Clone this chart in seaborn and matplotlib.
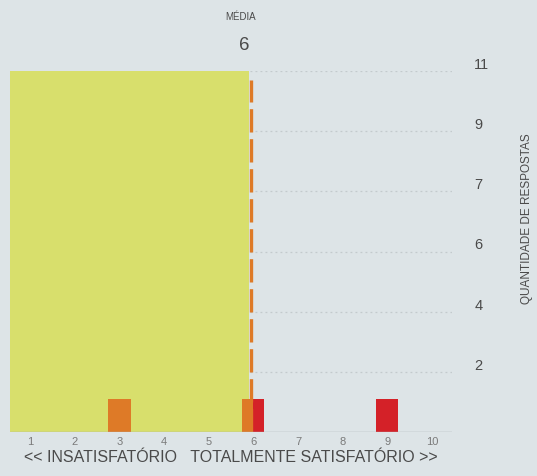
import numpy as np
import matplotlib
matplotlib.use("Agg")
import matplotlib.pyplot as plt
import seaborn as sns

# Scores on the satisfaction scale and answers per group
scores = list(range(1, 11))
group_a_scores = [3, 6]
group_a_counts = [1, 1]
group_b_scores = [6, 9]
group_b_counts = [1, 1]

y_max = 11
y_steps = 6
mean_value = 6

bg = "#dde4e7"
yellow = "#d8df6c"
orange = "#de7a27"
red = "#d42128"
text_gray = "#4a4a4a"

sns.set_theme(style="white")
plt.rcParams["font.family"] = ["Liberation Sans", "DejaVu Sans"]

W, H = 537, 477
fig = plt.figure(figsize=(W / 100, H / 100), dpi=100, facecolor=bg)
ax = fig.add_axes([10 / W, (H - 433) / H, 442 / W, (433 - 72) / H])
ax.set_facecolor(bg)

x_lo, x_hi = 0.55, 10.45
ax.set_xlim(x_lo, x_hi)
ax.set_ylim(0, y_max)

# Horizontal guide lines at evenly spaced fractions of the maximum
tick_pos = [y_max * k / y_steps for k in range(1, y_steps + 1)]
for t in tick_pos:
    ax.axhline(t, color="#c3cacd", lw=0.9, ls=(0, (1.5, 2.5)), zorder=1)

# Shaded band up to the mean
ax.fill_between([x_lo, mean_value - 0.1], 0, y_max, color=yellow, lw=0, zorder=2)

# Bars; a score answered by both groups is split in two halves
bar_w = 0.5
a = dict(zip(group_a_scores, group_a_counts))
b = dict(zip(group_b_scores, group_b_counts))
for s in scores:
    if s in a and s in b:
        ax.bar(s - bar_w / 4, a[s], width=bar_w / 2, color=orange, lw=0, zorder=3)
        ax.bar(s + bar_w / 4, b[s], width=bar_w / 2, color=red, lw=0, zorder=3)
    elif s in a:
        ax.bar(s, a[s], width=bar_w, color=orange, lw=0, zorder=3)
    elif s in b:
        ax.bar(s, b[s], width=bar_w, color=red, lw=0, zorder=3)

# Mean marker
ax.plot([mean_value - 0.05, mean_value - 0.05], [0, y_max * 0.975], color=orange,
        lw=2.4, ls=(0, (7, 2.0)), zorder=4, solid_capstyle="butt")
fig.text(241 / W, 1 - 17 / H, "MÉDIA", ha="center", va="center",
         fontsize=7, color=text_gray)
fig.text(244 / W, 1 - 45 / H, str(mean_value), ha="center", va="center",
         fontsize=13.5, color=text_gray)

# Baseline
ax.axhline(0, color="#a9b0b3", lw=1.0, zorder=5)

for sp in ax.spines.values():
    sp.set_visible(False)

ax.set_xticks(scores)
ax.set_xticklabels([str(s) for s in scores], fontsize=8, color="#7a7a7a")
ax.tick_params(axis="x", length=0, pad=3)

ax.yaxis.tick_right()
ax.set_yticks(tick_pos)
ax.set_yticklabels([str(int(round(t))) for t in tick_pos], fontsize=10.5,
                   color=text_gray, va="bottom")
ax.tick_params(axis="y", length=0, pad=16)

ax.set_xlabel("<< INSATISFATÓRIO   TOTALMENTE SATISFATÓRIO >>", fontsize=11.5,
              color=text_gray, labelpad=2)

fig.text(527 / W, 1 - 219 / H, "QUANTIDADE DE RESPOSTAS", rotation=90,
         ha="center", va="center", fontsize=8.5, color=text_gray)

fig.savefig("out.png", dpi=100, facecolor=bg)
